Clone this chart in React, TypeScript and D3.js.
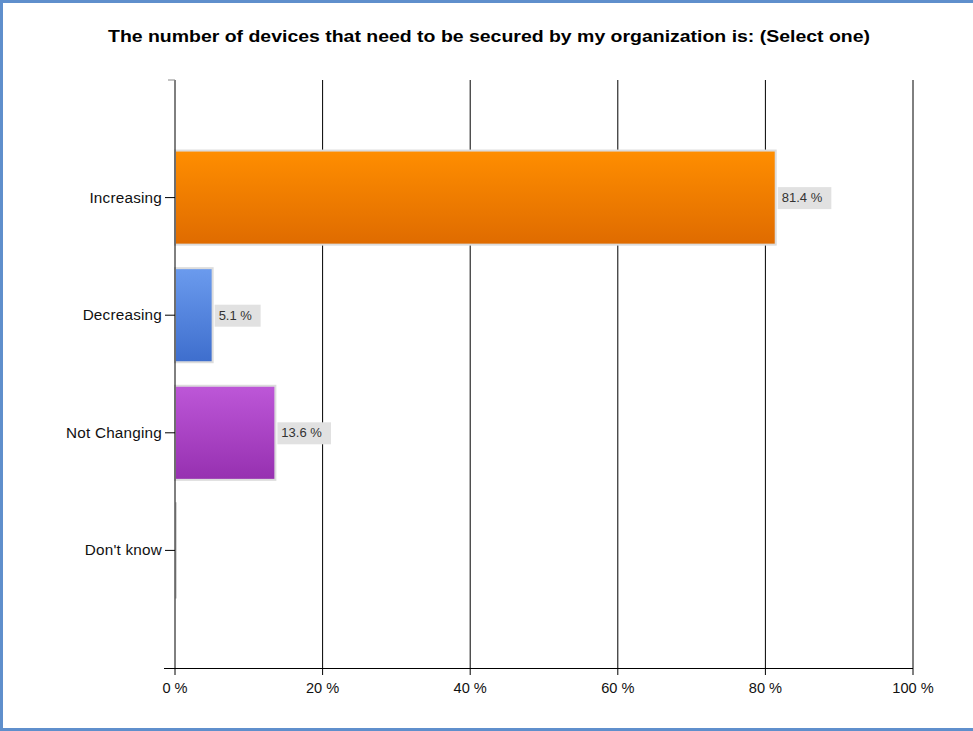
import React from "react";
import * as d3 from "d3";

const title = "The number of devices that need to be secured by my organization is: (Select one)";
const categories = ["Increasing", "Decreasing", "Not Changing", "Don't know"];
const values = [81.4, 5.1, 13.6, 0];
const valueLabels = ["81.4 %", "5.1 %", "13.6 %", ""];
const ticks = [0, 20, 40, 60, 80, 100];
const tickLabels = ["0 %", "20 %", "40 %", "60 %", "80 %", "100 %"];
const gradients = [
  ["#ff8e00", "#df6b00"],
  ["#6b9bee", "#3e6ecd"],
  ["#bd57d8", "#9630b0"],
  ["#cccccc", "#aaaaaa"],
];

const W = 973;
const H = 731;

export default function App() {
  const x = d3.scaleLinear().domain([0, 100]).range([175, 913]);
  const y = d3
    .scaleBand<string>()
    .domain(categories)
    .range([80, 668])
    .paddingInner(0.2)
    .paddingOuter(0.6);
  const font = "'Liberation Sans', Arial, sans-serif";
  const bw = y.bandwidth();

  return (
    <svg
      width={W}
      height={H}
      style={{ position: "absolute", left: 0, top: 0, background: "#fff" }}
      fontFamily={font}
    >
      <defs>
        {gradients.map((g, i) => (
          <linearGradient key={i} id={`grad${i}`} x1="0" y1="0" x2="0" y2="1">
            <stop offset="0%" stopColor={g[0]} />
            <stop offset="100%" stopColor={g[1]} />
          </linearGradient>
        ))}
      </defs>
      <rect x={1.5} y={1.5} width={W + 5} height={H - 3} fill="#fff" stroke="#5f8fcc" strokeWidth={3} />

      <text
        x={489}
        y={42}
        textAnchor="middle"
        fontWeight="bold"
        fontSize={17}
        fill="#000"
        textLength={762}
        lengthAdjust="spacingAndGlyphs"
      >
        {title}
      </text>

      {/* grid lines */}
      {ticks.slice(1).map((t) => (
        <line key={t} x1={x(t)} x2={x(t)} y1={80} y2={668} stroke="#000" strokeWidth={1} />
      ))}

      {/* bars */}
      {categories.map((c, i) => {
        const y0 = y(c)!;
        const x1 = x(values[i]);
        const w = x1 - x(0);
        return (
          <g key={c}>
            {w > 0 ? (
              <rect
                x={x(0)}
                y={y0}
                width={w}
                height={bw}
                fill={`url(#grad${i})`}
                stroke="#dcdcdc"
                strokeWidth={2}
              />
            ) : (
              <line x1={x(0) + 1} x2={x(0) + 1} y1={y0 - 1} y2={y0 + bw + 1} stroke="#d4d4d4" strokeWidth={2} />
            )}
            {valueLabels[i] && (
              <g>
                <rect x={x1 + 2} y={y0 + bw / 2 - 10.5} width={valueLabels[i].length * 7.6 + 8} height={22} fill="#e1e1e1" />
                <text x={x1 + 6} y={y0 + bw / 2 + 4.5} fontSize={13} fill="#333">
                  {valueLabels[i]}
                </text>
              </g>
            )}
          </g>
        );
      })}

      {/* y axis */}
      <line x1={x(0)} x2={x(0)} y1={80} y2={668} stroke="#000" strokeWidth={1} />
      <line x1={168} x2={175} y1={80} y2={80} stroke="#888" strokeWidth={1} />
      {categories.map((c) => {
        const cy = y(c)! + bw / 2;
        return (
          <g key={c}>
            <line x1={165} x2={175} y1={cy} y2={cy} stroke="#000" strokeWidth={1} />
            <text x={162} y={cy + 5} textAnchor="end" fontSize={15.3} letterSpacing={0.2} fill="#111">
              {c}
            </text>
          </g>
        );
      })}

      {/* x axis */}
      <line x1={164} x2={x(100)} y1={668.5} y2={668.5} stroke="#000" strokeWidth={1} />
      {ticks.map((t, i) => (
        <g key={t}>
          <line x1={x(t)} x2={x(t)} y1={668} y2={675} stroke="#000" strokeWidth={1} />
          <text x={x(t)} y={693} textAnchor="middle" fontSize={14.6} fill="#111">
            {tickLabels[i]}
          </text>
        </g>
      ))}
    </svg>
  );
}
